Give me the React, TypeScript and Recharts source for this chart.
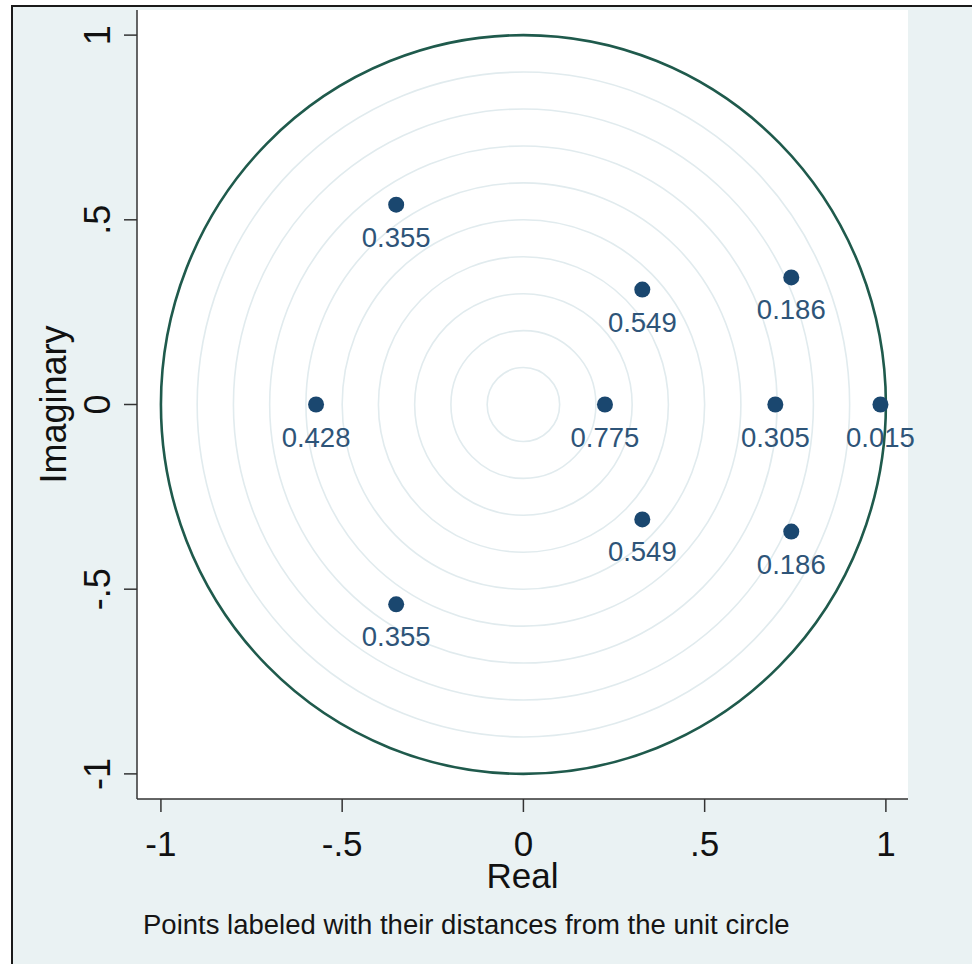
import React from "react";
import {
  ScatterChart,
  Scatter,
  XAxis,
  YAxis,
  CartesianGrid,
  ReferenceArea,
} from "recharts";

// Eigenvalues (real, imaginary parts) and their distances from the unit circle
const REAL = [-0.351, -0.351, 0.328, 0.328, 0.739, 0.739, -0.572, 0.225, 0.695, 0.985];
const IMAG = [0.541, -0.541, 0.311, -0.311, 0.344, -0.344, 0, 0, 0, 0];
const DIST_LABELS = ["0.355", "0.355", "0.549", "0.549", "0.186", "0.186", "0.428", "0.775", "0.305", "0.015"];

// Guide rings and the unit circle
const RING_RADII = [0.1, 0.2, 0.3, 0.4, 0.5, 0.6, 0.7, 0.8, 0.9];
const UNIT_RADIUS = 1;

// Axis ticks
const TICKS = [-1, -0.5, 0, 0.5, 1];
const TICK_LABELS = ["-1", "-.5", "0", ".5", "1"];

const X_DOMAIN: [number, number] = [-1.066, 1.061];
const Y_DOMAIN: [number, number] = [-1.068, 1.068];

const FONT = "'Liberation Sans', Arial, Helvetica, sans-serif";
const POINT_COLOR = "#1A476F";
const LABEL_COLOR = "#2E5478";
const CIRCLE_COLOR = "#1F5A4C";
const RING_COLOR = "#E1EBEE";
const AXIS_COLOR = "#333333";
const BG = "#EAF2F3";

const data = REAL.map((re, i) => ({ re, im: IMAG[i], label: DIST_LABELS[i] }));

const tickLabel = (v: number) => {
  const i = TICKS.indexOf(v);
  return i >= 0 ? TICK_LABELS[i] : String(v);
};

const XTick = (props: any) => {
  const { x, y, payload } = props;
  return (
    <text
      x={x}
      y={y + 42}
      textAnchor="middle"
      fontFamily={FONT}
      fontSize={35}
      fill="#111"
    >
      {tickLabel(payload.value)}
    </text>
  );
};

const YTick = (props: any) => {
  const { x, y, payload } = props;
  const tx = x - 12;
  return (
    <text
      x={tx}
      y={y}
      transform={`rotate(-90, ${tx}, ${y})`}
      textAnchor="middle"
      fontFamily={FONT}
      fontSize={36}
      fill="#111"
    >
      {tickLabel(payload.value)}
    </text>
  );
};

const makeRing = (color: string, width: number) => (p: any) => {
  const w = Math.abs(p.width);
  const h = Math.abs(p.height);
  const x0 = Math.min(p.x, p.x + p.width);
  const y0 = Math.min(p.y, p.y + p.height);
  return (
    <ellipse
      cx={x0 + w / 2}
      cy={y0 + h / 2}
      rx={w / 2}
      ry={h / 2}
      fill="none"
      stroke={color}
      strokeWidth={width}
    />
  );
};

const RingShape = makeRing(RING_COLOR, 1.6);
const UnitShape = makeRing(CIRCLE_COLOR, 2.6);

const PointShape = (props: any) => {
  const { cx, cy, payload } = props;
  return (
    <g>
      <circle cx={cx} cy={cy} r={8} fill={POINT_COLOR} />
      <text
        x={cx}
        y={cy + 42}
        textAnchor="middle"
        fontFamily={FONT}
        fontSize={27.5}
        fill={LABEL_COLOR}
      >
        {payload.label}
      </text>
    </g>
  );
};

const RealLabel = (props: any) => {
  const vb = props.viewBox || {};
  return (
    <text
      x={vb.x + vb.width / 2}
      y={vb.y + 89}
      textAnchor="middle"
      fontFamily={FONT}
      fontSize={35}
      fill="#111"
    >
      Real
    </text>
  );
};

const ImagLabel = (props: any) => {
  const vb = props.viewBox || {};
  const cx = 66;
  const cy = vb.y + vb.height / 2;
  return (
    <text
      x={cx}
      y={cy}
      transform={`rotate(-90, ${cx}, ${cy})`}
      textAnchor="middle"
      fontFamily={FONT}
      fontSize={36}
      fill="#111"
    >
      Imaginary
    </text>
  );
};

export default function App() {
  return (
    <div
      style={{
        position: "absolute",
        left: 0,
        top: 0,
        width: 972,
        height: 964,
        background: "#ffffff",
        overflow: "hidden",
      }}
    >
      <div
        style={{
          position: "absolute",
          left: 11,
          top: 5,
          width: 961,
          height: 959,
          background: BG,
          borderTop: "2px solid #1a1a1a",
          borderLeft: "2px solid #1a1a1a",
          boxSizing: "border-box",
        }}
      />
      <div style={{ position: "absolute", left: 0, top: 0 }}>
        <ScatterChart
          width={972}
          height={964}
          margin={{ top: 10, right: 64, bottom: 0, left: 0 }}
          style={{ overflow: "visible" }}
        >
          <CartesianGrid fill="#ffffff" horizontal={false} vertical={false} stroke="none" />
          <XAxis
            type="number"
            dataKey="re"
            domain={X_DOMAIN}
            ticks={TICKS}
            height={165}
            tickSize={13}
            tickMargin={2}
            axisLine={{ stroke: AXIS_COLOR, strokeWidth: 1.5 }}
            tickLine={{ stroke: AXIS_COLOR, strokeWidth: 1.5 }}
            tick={<XTick />}
            label={<RealLabel />}
          />
          <YAxis
            type="number"
            dataKey="im"
            domain={Y_DOMAIN}
            ticks={TICKS}
            width={137}
            tickSize={13}
            tickMargin={2}
            axisLine={{ stroke: AXIS_COLOR, strokeWidth: 1.5 }}
            tickLine={{ stroke: AXIS_COLOR, strokeWidth: 1.5 }}
            tick={<YTick />}
            label={<ImagLabel />}
          />
          {RING_RADII.map((r) => (
            <ReferenceArea
              key={`ring-${r}`}
              x1={-r}
              x2={r}
              y1={-r}
              y2={r}
              shape={RingShape}
            />
          ))}
          <ReferenceArea
            x1={-UNIT_RADIUS}
            x2={UNIT_RADIUS}
            y1={-UNIT_RADIUS}
            y2={UNIT_RADIUS}
            shape={UnitShape}
          />
          <Scatter data={data} shape={PointShape} isAnimationActive={false} />
        </ScatterChart>
      </div>
      <div
        style={{
          position: "absolute",
          left: 143,
          top: 911,
          fontFamily: FONT,
          fontSize: 27.5,
          lineHeight: 1,
          color: "#151515",
          whiteSpace: "nowrap",
        }}
      >
        Points labeled with their distances from the unit circle
      </div>
    </div>
  );
}
